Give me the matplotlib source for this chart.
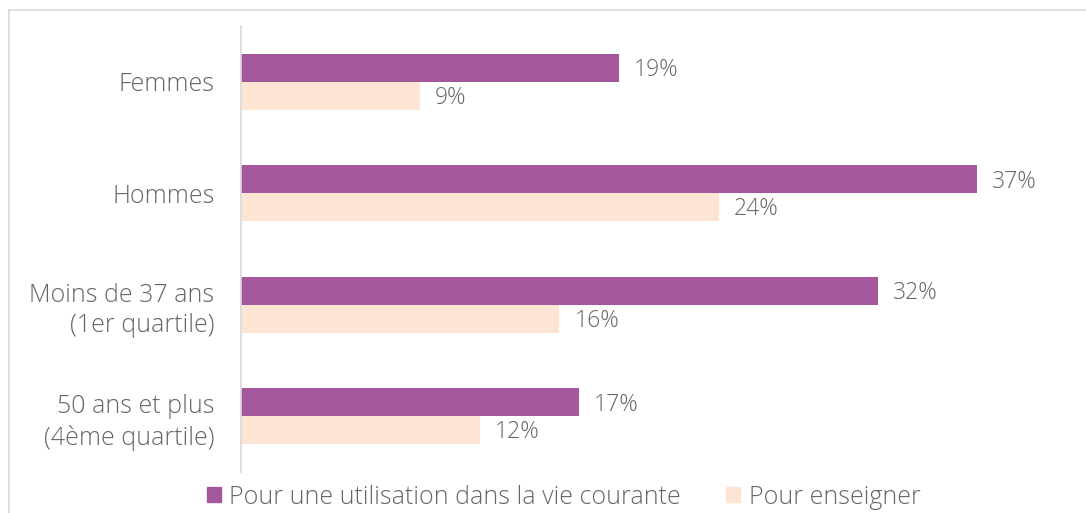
import matplotlib.pyplot as plt
from matplotlib.lines import Line2D
from matplotlib.patches import Patch

categories = ["Femmes", "Hommes", "Moins de 37 ans\n(1er quartile)", "50 ans et plus\n(4ème quartile)"]
vie_courante = [19, 37, 32, 17]
enseigner = [9, 24, 16, 12]
series_names = ["Pour une utilisation dans la vie courante", "Pour enseigner"]

purple = "#a5579e"
peach = "#fde4d3"
txt = "#666666"

plt.rcParams['font.family'] = ['Open Sans', 'DejaVu Sans']
fs = 18
fw = "light"

fig = plt.figure(figsize=(10.86, 5.13), dpi=100)
ax = fig.add_axes([241 / 1086, 1 - 472 / 513, (1037 - 241) / 1086, (472 - 26) / 513])

h = 0.25
y = list(range(len(categories)))
ax.barh([i - h / 2 for i in y], vie_courante, height=h, color=purple)
ax.barh([i + h / 2 for i in y], enseigner, height=h, color=peach)

for i in y:
    ax.text(vie_courante[i] + 0.75, i - h / 2 + 0.02, f"{vie_courante[i]}%", va="center", ha="left",
            fontsize=16.5, color=txt, fontweight=fw)
    ax.text(enseigner[i] + 0.75, i + h / 2 + 0.02, f"{enseigner[i]}%", va="center", ha="left",
            fontsize=16.5, color=txt, fontweight=fw)

ax.set_xlim(0, 40)
ax.set_ylim(3.5, -0.5)
ax.set_yticks(y)
ax.set_yticklabels(categories, fontsize=fs, color=txt, fontweight=fw, linespacing=1.3)
ax.tick_params(axis="y", length=0, pad=19)
ax.set_xticks([])
for s in ["top", "right", "bottom"]:
    ax.spines[s].set_visible(False)
ax.spines["left"].set_color("#d9d9d9")
ax.spines["left"].set_linewidth(1.2)

# outer frame
fig.add_artist(Line2D([9 / 1086, 9 / 1086], [0, 1 - 10 / 513], color="#d9d9d9", lw=1.2))
fig.add_artist(Line2D([9 / 1086, 1], [1 - 10 / 513, 1 - 10 / 513], color="#d9d9d9", lw=1.2))

handles = [Patch(color=purple), Patch(color=peach)]
fig.legend(handles, series_names, loc="center", bbox_to_anchor=(0.519, 1 - 497 / 513), ncol=2,
           frameon=False, handlelength=0.55, handleheight=0.55, handletextpad=0.35,
           columnspacing=1.8, labelcolor=txt, prop={"weight": fw, "size": fs})

fig.savefig("out.png", dpi=100)
